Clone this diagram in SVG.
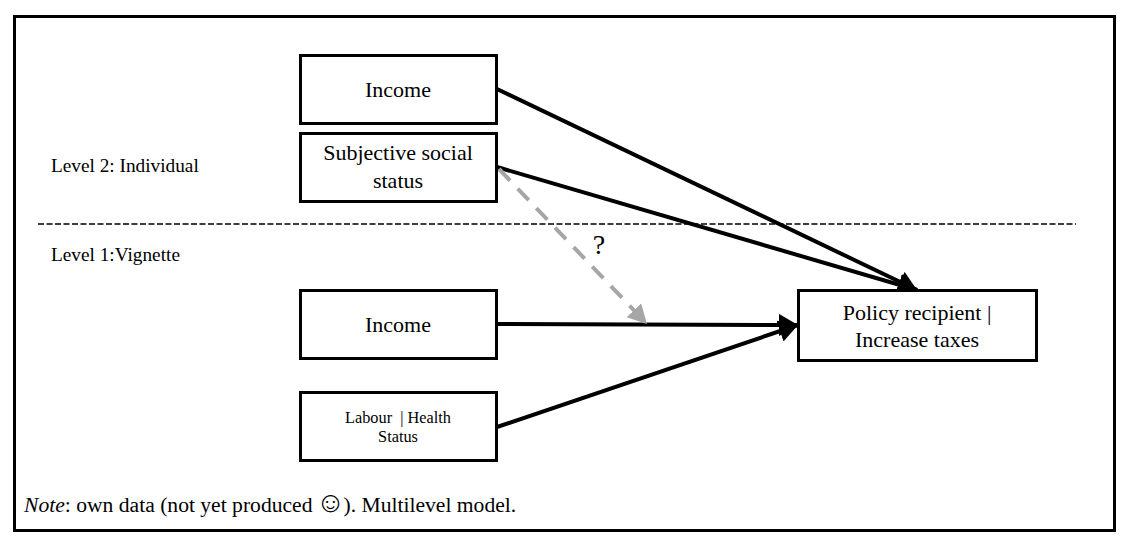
<svg xmlns="http://www.w3.org/2000/svg" width="1137" height="552" viewBox="0 0 1137 552">
<style>
text{font-family:"Liberation Serif","Times New Roman",serif;fill:#000;text-anchor:middle}
.box{fill:#fff;stroke:#000;stroke-width:3}
.t{font-size:22px}
.s{font-size:16.3px}
.l{font-size:19.3px;text-anchor:start}
.c{fill:none;stroke:#000;stroke-width:4}
</style>
<defs>
<marker id="a" markerUnits="userSpaceOnUse" markerWidth="22" markerHeight="24" refX="19" refY="11" orient="auto"><path d="M0 0L19 11L0 22Z" fill="#000"/></marker>
<marker id="g" markerUnits="userSpaceOnUse" markerWidth="22" markerHeight="22" refX="19" refY="10" orient="auto"><path d="M0 0L19 10L0 20Z" fill="#a6a6a6"/></marker>
</defs>
<rect x="14.5" y="16.5" width="1100" height="514" fill="#fff" stroke="#000" stroke-width="3"/>
<g id="connectors">
<line x1="38" y1="224" x2="1076" y2="224" stroke="#000" stroke-width="1.5" stroke-dasharray="6 2.5"/>
<line class="c" x1="497" y1="89" x2="917" y2="290" marker-end="url(#a)"/>
<line class="c" x1="497" y1="167" x2="917" y2="290" marker-end="url(#a)"/>
<line class="c" x1="497" y1="324" x2="798" y2="325" marker-end="url(#a)"/>
<line class="c" x1="497" y1="427" x2="798" y2="325" marker-end="url(#a)"/>
<line x1="499" y1="169" x2="647" y2="324" stroke="#a6a6a6" stroke-width="4" stroke-dasharray="16 11" marker-end="url(#g)"/>
</g>
<g id="n1"><rect class="box" x="300.500" y="55.500" width="196" height="68"/><text class="t" x="398" y="96.500">Income</text></g>
<g id="n2"><rect class="box" x="300.500" y="133.500" width="196" height="68"/><text class="t" x="398" y="160">Subjective social</text><text class="t" x="398" y="188">status</text></g>
<g id="n3"><rect class="box" x="300.500" y="290.500" width="196" height="68"/><text class="t" x="398" y="332">Income</text></g>
<g id="n4"><rect class="box" x="300.500" y="392.500" width="196" height="68"/><text class="s" x="398" y="423" xml:space="preserve">Labour  | Health</text><text class="s" x="398" y="442">Status</text></g>
<g id="n5"><rect class="box" x="798.500" y="290.500" width="238" height="70"/><text class="t" x="917" y="320">Policy recipient |</text><text class="t" x="917" y="347">Increase taxes</text></g>
<text class="l" x="51" y="172">Level 2: Individual</text>
<text class="l" x="51" y="261">Level 1:Vignette</text>
<text x="599" y="254" style="font-size:28px">?</text>
<text x="24" y="512" style="font-size:21.6px;text-anchor:start"><tspan font-style="italic">Note</tspan>: own data (not yet produced <tspan dx="-2" style="font-size:29px">☺</tspan><tspan dx="-2">). Multilevel model.</tspan></text>
</svg>
